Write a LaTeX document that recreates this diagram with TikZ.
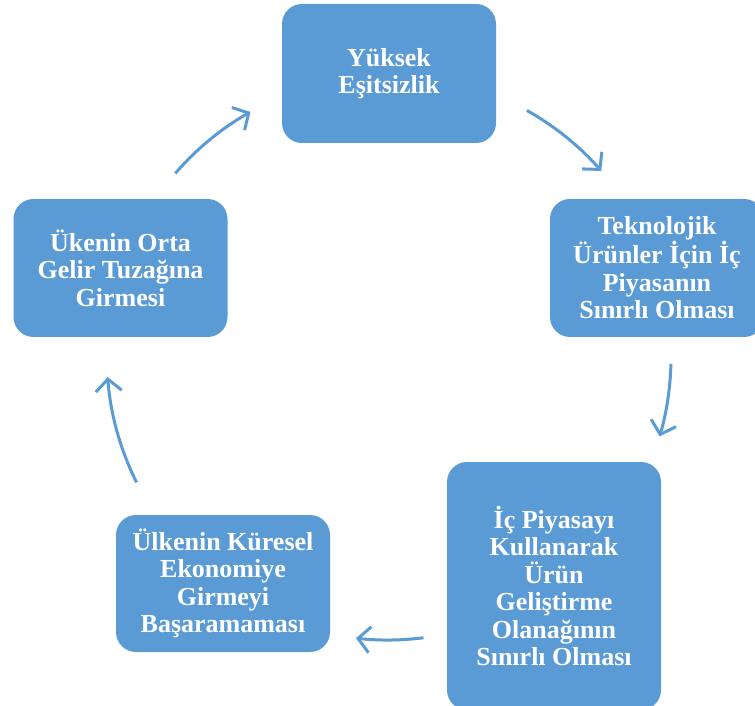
\documentclass[tikz,border=0pt]{standalone}
\usepackage{fontspec}
\setmainfont{Liberation Serif}
\usetikzlibrary{arrows.meta}
\definecolor{boxblue}{HTML}{5B9BD5}
\begin{document}
\begin{tikzpicture}[x=1pt,y=1pt,
  stage/.style={fill=boxblue, rounded corners=20pt, minimum width=214pt,
    inner sep=4pt, align=center, text=white,
    font=\bfseries\fontsize{26}{27.5}\selectfont},
  flow/.style={draw=boxblue, line width=3pt,
    -{Straight Barb[length=12pt,width=26pt]}}]
\useasboundingbox (0,0) rectangle (755,705);
\clip (0,0) rectangle (755,705);

% centre of the circle the arrows run along
\coordinate (hub) at (388,348);

% the five stages of the cycle
\node[stage, minimum height=139pt] (s1) at (389,631.5) {Yüksek\\Eşitsizlik};
\node[stage, minimum height=138pt] (s2) at (657,437) {Teknolojik\\Ürünler İçin İç\\Piyasanın\\Sınırlı Olması};
\node[stage, minimum height=248pt] (s3) at (554,119) {İç Piyasayı\\Kullanarak\\Ürün\\Geliştirme\\Olanağının\\Sınırlı Olması};
\node[stage, minimum height=137pt] (s4) at (223,121.5) {Ülkenin Küresel\\Ekonomiye\\Girmeyi\\Başaramaması};
\node[stage, minimum height=138pt] (s5) at (120.5,437) {Ükenin Orta\\Gelir Tuzağına\\Girmesi};

% circular arrows between the stages
\draw[flow] ([shift={(60.6:283)}]hub) arc[start angle=60.6, end angle=41.1, radius=283];
\draw[flow] ([shift={(-1.4:283)}]hub) arc[start angle=-1.4, end angle=-16.3, radius=283];
\draw[flow] ([shift={(-82.8:283)}]hub) arc[start angle=-82.8, end angle=-96.5, radius=283];
\draw[flow] ([shift={(206.5:281)}]hub) arc[start angle=206.5, end angle=184.1, radius=281];
\draw[flow] ([shift={(139.2:281)}]hub) arc[start angle=139.2, end angle=119.3, radius=281];
\end{tikzpicture}
\end{document}
